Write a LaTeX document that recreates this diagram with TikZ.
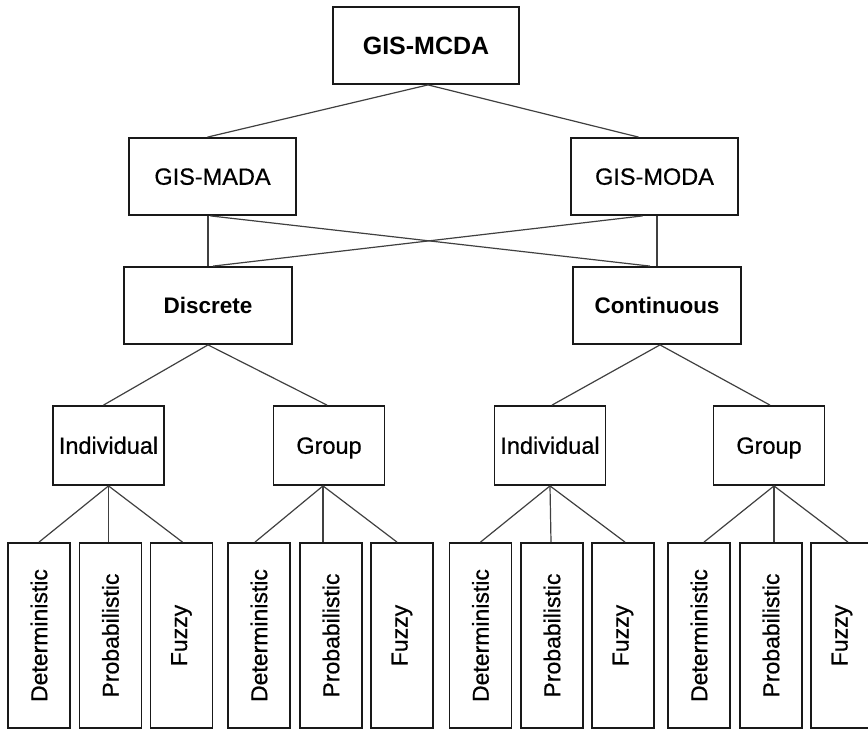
\documentclass[tikz,border=0pt]{standalone}
\usepackage{fontspec}
\setmainfont{Liberation Sans}
\newfontfamily\medfont[FakeBold=0.6]{Liberation Sans}
\begin{document}
\begin{tikzpicture}[x=1pt,y=-1pt,
  box/.style={draw=black!90,line width=1.8pt,inner sep=0pt,align=center,fill=white},
  leaf/.style={box,minimum width=62pt,minimum height=185pt},
  mid/.style={box,minimum width=111pt,minimum height=79pt},
  big/.style={box,minimum width=167pt,minimum height=77pt},
  conn/.style={draw=black!75,line width=1.2pt},
  capc/.style={text height=16.5pt,text depth=0pt},
  ft/.style={capc,font=\medfont\fontsize{23.5}{27}\selectfont},
  ftb/.style={capc,font=\fontsize{22.5}{27}\selectfont\bfseries},
  lt/.style={font=\medfont\fontsize{23}{27}\selectfont}]
\useasboundingbox (0,0) rectangle (868,729);
% top
\node[big,minimum width=186pt,capc,text height=17.5pt,font=\fontsize{25}{29}\selectfont\bfseries] (mcda) at (426,45.5) {GIS-MCDA};
\node[big,ft] (mada) at (212.5,176.5) {GIS-MADA};
\node[big,ft] (moda) at (654.5,176.5) {GIS-MODA};
\node[big,minimum width=168pt,ftb] (disc) at (208,305.5) {Discrete};
\node[big,minimum width=168pt,ftb] (cont) at (657,305.5) {Continuous};
% middle
\node[mid,ft] (indL) at (108.5,445.5) {Individual};
\node[mid,ft] (grpL) at (329,445.5) {Group};
\node[mid,ft] (indR) at (550,445.5) {Individual};
\node[mid,ft] (grpR) at (769,445.5) {Group};
% leaves
\node[leaf,lt] (l1) at (39,635.5) {\rotatebox{90}{Deterministic}};
\node[leaf,lt] (l2) at (110.5,635.5) {\rotatebox{90}{Probabilistic}};
\node[leaf,lt] (l3) at (181.5,635.5) {\rotatebox{90}{Fuzzy}};
\node[leaf,lt] (l4) at (259,635.5) {\rotatebox{90}{Deterministic}};
\node[leaf,lt] (l5) at (331,635.5) {\rotatebox{90}{Probabilistic}};
\node[leaf,lt] (l6) at (402,635.5) {\rotatebox{90}{Fuzzy}};
\node[leaf,lt] (l7) at (480.5,635.5) {\rotatebox{90}{Deterministic}};
\node[leaf,lt] (l8) at (552,635.5) {\rotatebox{90}{Probabilistic}};
\node[leaf,lt] (l9) at (623,635.5) {\rotatebox{90}{Fuzzy}};
\node[leaf,lt] (l10) at (699,635.5) {\rotatebox{90}{Deterministic}};
\node[leaf,lt] (l11) at (771,635.5) {\rotatebox{90}{Probabilistic}};
\node[leaf,lt] (l12) at (842,635.5) {\rotatebox{90}{Fuzzy}};
% connectors
\draw[conn] ([xshift=2pt]mcda.south) -- ([xshift=-5pt]mada.north);
\draw[conn] ([xshift=2pt]mcda.south) -- ([xshift=-16pt]moda.north);
\draw[conn] (disc.north |- mada.south) -- (disc.north);
\draw[conn] (cont.north |- moda.south) -- (cont.north);
\draw[conn] ([xshift=-2pt]mada.south) -- ([xshift=-7pt]cont.north);
\draw[conn] ([xshift=-12pt]moda.south) -- ([xshift=5pt]disc.north);
\draw[conn] (disc.south) -- ([xshift=-5pt]indL.north);
\draw[conn] (disc.south) -- ([xshift=-2pt]grpL.north);
\draw[conn] ([xshift=3pt]cont.south) -- ([xshift=2pt]indR.north);
\draw[conn] ([xshift=3pt]cont.south) -- ([xshift=1pt]grpR.north);
\draw[conn] (indL.south) -- (l1.north);
\draw[conn] (indL.south) -- ([xshift=-2pt]l2.north);
\draw[conn] (indL.south) -- ([xshift=1pt]l3.north);
\draw[conn] ([xshift=-6pt]grpL.south) -- ([xshift=-4pt]l4.north);
\draw[conn] ([xshift=-6pt]grpL.south) -- ([xshift=-8pt]l5.north);
\draw[conn] ([xshift=-6pt]grpL.south) -- ([xshift=-5pt]l6.north);
\draw[conn] (indR.south) -- (l7.north);
\draw[conn] (indR.south) -- ([xshift=-1pt]l8.north);
\draw[conn] (indR.south) -- ([xshift=2pt]l9.north);
\draw[conn] ([xshift=5pt]grpR.south) -- ([xshift=5pt]l10.north);
\draw[conn] ([xshift=5pt]grpR.south) -- ([xshift=3pt]l11.north);
\draw[conn] ([xshift=5pt]grpR.south) -- ([xshift=6pt]l12.north);
\end{tikzpicture}
\end{document}
